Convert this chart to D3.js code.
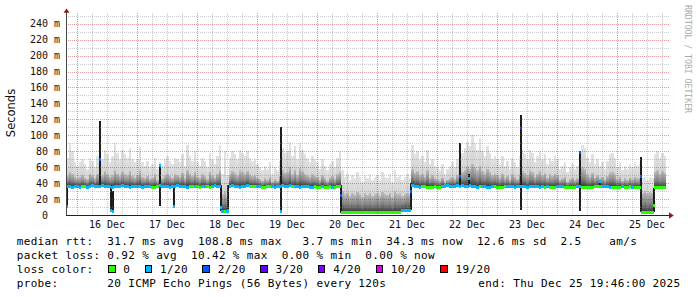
<!DOCTYPE html>
<html>
<head>
<meta charset="utf-8">
<script src="https://cdn.jsdelivr.net/npm/d3@7"></script>
<style>
  body { margin: 0; background: #fff; }
  svg { display: block; }
  text { font-family: "DejaVu Sans Mono", monospace; white-space: pre; }
</style>
</head>
<body>
<svg id="chart" width="697" height="297"></svg>
<script>
// Hourly bins from 15 Dec 19:46 to 25 Dec 19:46 (240 bins)
const startTime = "2025-12-15 19:46";
const endTime = "2025-12-25 19:46";

// top of the smoke (slowest ping), ms
const smokeHi = [
  71, 90, 80, 67,
  62, 66, 70, 64, 58, 72, 68, 60, 74, 78, 70, 82, 76, 66, 74, 90, 78, 70, 82, 76, 72, 84, 70, 66,
  70, 86, 66, 62, 68, 60, 64, 72, 58, 66, 62, 70, 74, 68, 64, 72, 70, 66, 76, 62, 88, 74, 68, 80,
  66, 62, 72, 68, 60, 78, 70, 64, 74, 88, 52, 80, 50, 72, 80, 76, 70, 82, 78, 74, 80, 72, 68, 70,
  64, 60, 56, 62, 58, 66, 52, 60, 56, 68, 84, 78, 80, 92, 74, 86, 70, 90, 82, 76, 72, 66, 74, 70,
  66, 58, 70, 62, 56, 64, 68, 60, 72, 80, 56, 48, 52, 44, 50, 46, 54, 48, 42, 50, 46, 52, 44, 48,
  50, 44, 54, 48, 46, 52, 42, 56, 48, 50, 44, 48, 52, 46, 88, 76, 80, 70, 74, 66, 82, 64, 70, 62,
  60, 56, 64, 52, 58, 62, 66, 60, 70, 72, 78, 84, 92, 86, 100, 90, 82, 96, 80, 74, 86, 78, 70, 74,
  70, 64, 74, 62, 68, 58, 72, 66, 60, 74, 80, 76, 70, 82, 78, 66, 74, 80, 70, 76, 64, 72, 68, 74,
  70, 58, 62, 66, 54, 60, 64, 58, 62, 74, 88, 84, 72, 66, 76, 64, 70, 62, 66, 58, 68, 76, 78, 72,
  60, 66, 56, 62, 58, 64, 60, 66, 62, 64, 46, 48, 44, 48, 46, 76, 80, 72, 78, 74
];

// top of the dense part of the smoke, ms
const smokeMid = [
  50, 54, 52, 48,
  46, 48, 50, 47, 45, 52, 50, 46, 52, 54, 50, 55, 52, 48, 50, 56, 52, 49, 54, 51, 50, 55, 49, 47,
  50, 56, 48, 46, 49, 45, 47, 51, 44, 48, 46, 50, 52, 49, 47, 51, 50, 48, 53, 46, 56, 52, 49, 54,
  48, 46, 51, 49, 45, 54, 50, 47, 52, 56, 26, 30, 24, 51, 55, 53, 50, 56, 54, 52, 55, 51, 49, 50,
  47, 45, 43, 46, 44, 48, 42, 45, 43, 49, 56, 53, 54, 60, 51, 57, 50, 59, 55, 52, 50, 48, 51, 49,
  48, 44, 50, 46, 43, 47, 49, 45, 51, 54, 30, 26, 28, 24, 27, 25, 29, 26, 23, 27, 25, 28, 24, 26,
  27, 24, 29, 26, 25, 28, 23, 30, 26, 27, 24, 26, 28, 25, 58, 53, 55, 50, 52, 48, 56, 47, 50, 46,
  45, 43, 47, 41, 44, 46, 48, 45, 50, 51, 54, 57, 61, 58, 64, 60, 56, 62, 55, 52, 58, 54, 50, 52,
  50, 47, 52, 46, 49, 44, 51, 48, 45, 52, 55, 53, 50, 56, 54, 48, 52, 55, 50, 53, 47, 51, 49, 52,
  50, 44, 46, 48, 42, 45, 47, 44, 46, 52, 60, 58, 51, 48, 53, 47, 50, 46, 48, 44, 49, 53, 54, 51,
  45, 48, 43, 46, 44, 47, 45, 48, 46, 47, 28, 30, 27, 29, 28, 54, 56, 52, 55, 53
];

// median rtt, ms
const medianRtt = [
  36, 36, 35, 36,
  36, 35, 36, 36, 35, 36, 37, 36, 36, 36, 37, 36, 36, 36, 35, 36, 36, 36, 37, 36, 36, 35, 36, 36,
  36, 36, 35, 36, 36, 36, 35, 35, 36, 37, 36, 36, 36, 35, 36, 36, 37, 36, 36, 36, 35, 36, 36, 36,
  36, 35, 36, 36, 36, 35, 36, 37, 36, 36, 5, 4, 5, 36, 37, 36, 36, 35, 36, 36, 37, 36, 36, 36,
  36, 36, 35, 35, 36, 36, 36, 35, 36, 36, 37, 36, 36, 37, 36, 36, 36, 35, 36, 36, 36, 35, 35, 36,
  35, 35, 36, 35, 35, 36, 35, 35, 36, 36, 3.5, 3.4, 3.5, 3.4, 3.4, 3.5, 3.4, 3.5, 3.4, 3.4, 3.5, 3.4, 3.4, 3.5,
  3.4, 3.5, 3.4, 3.4, 3.5, 3.4, 3.4, 3.5, 3.4, 3.5, 6, 6, 6, 6, 37, 36, 36, 35, 36, 36, 35, 35, 35, 36,
  35, 35, 36, 36, 37, 36, 36, 36, 37, 36, 37, 36, 36, 37, 36, 36, 35, 36, 36, 36, 35, 35, 36, 36,
  35, 35, 35, 36, 36, 36, 36, 35, 36, 36, 36, 36, 35, 36, 36, 36, 36, 35, 36, 35, 36, 35, 35, 35,
  36, 36, 36, 35, 35, 35, 35, 35, 36, 36, 35, 35, 35, 35, 35, 36, 36, 36, 36, 36, 36, 35, 35, 35,
  35, 35, 36, 35, 35, 36, 35, 35, 35, 35, 3.6, 3.6, 3.6, 3.6, 3.6, 34, 34, 34, 34, 34
];

// lost pings out of 20
const lossCount = [
  1, 1, 1, 1,
  1, 1, 0, 0, 1, 1, 1, 1, 1, 1, 1, 1, 1, 1, 1, 1, 1, 1, 1, 1, 1, 1, 1, 1,
  1, 1, 1, 1, 1, 1, 0, 0, 0, 1, 1, 1, 1, 1, 1, 1, 1, 1, 1, 1, 1, 0, 0, 1,
  0, 0, 1, 1, 0, 0, 1, 1, 1, 1, 1, 0, 1, 1, 1, 1, 1, 1, 1, 1, 1, 0, 0, 0,
  1, 1, 0, 0, 0, 0, 1, 1, 1, 1, 1, 1, 1, 1, 0, 1, 1, 1, 1, 1, 1, 1, 1, 0,
  0, 0, 1, 0, 0, 0, 1, 0, 0, 0, 0, 0, 0, 0, 0, 0, 0, 0, 0, 0, 0, 0, 0, 0,
  0, 0, 0, 0, 0, 0, 0, 0, 0, 0, 1, 1, 1, 1, 1, 1, 1, 1, 0, 0, 0, 0, 0, 0,
  0, 0, 1, 1, 1, 1, 1, 1, 1, 1, 1, 1, 1, 1, 1, 1, 1, 0, 1, 1, 1, 1, 1, 0,
  0, 0, 0, 0, 1, 1, 1, 1, 1, 1, 1, 1, 1, 1, 1, 1, 1, 1, 1, 0, 1, 0, 0, 0,
  1, 1, 1, 0, 0, 0, 0, 0, 1, 1, 0, 0, 0, 0, 0, 0, 0, 0, 1, 1, 1, 1, 0, 0,
  0, 0, 1, 0, 0, 0, 1, 0, 0, 0, 0, 0, 0, 0, 0, 0, 0, 0, 0, 0
];

// short bursts where the pings spread widely (dark columns)
const burstTimes = [
  "2025-12-15 20:10", "2025-12-16 09:22", "2025-12-16 13:34", "2025-12-16 14:22",
  "2025-12-17 09:22", "2025-12-17 14:58", "2025-12-18 09:34", "2025-12-18 12:22",
  "2025-12-19 09:34", "2025-12-20 09:34", "2025-12-21 13:46", "2025-12-22 09:22",
  "2025-12-22 12:58", "2025-12-23 09:34", "2025-12-24 09:22", "2025-12-24 17:10",
  "2025-12-25 09:34", "2025-12-25 14:46"
];
const burstLo   = [10, 36, 5, 5, 11, 11, 5, 5, 4, 3, 6, 36, 36, 6, 5, 36, 4, 4];
const burstHi   = [38, 118, 38, 30, 62, 37, 38, 38, 110, 38, 40, 90, 52, 125, 78, 43, 73, 34];
const burstMed  = [11, 69, 6, 5, 62, 11, 10, 6, 4, 25, 30, 48, 46, 109, 78, 42, 48, 12];
const burstLoss = [1, 2, 1, 1, 1, 1, 1, 1, 1, 2, 2, 2, 1, 3, 2, 1, 2, 0];

const yTicks = [0, 20, 40, 60, 80, 100, 120, 140, 160, 180, 200, 220, 240];
const yMinor = [10, 30, 50, 70, 90, 110, 130, 150, 170, 190, 210, 230, 250];
const dayLabels = ["16 Dec", "17 Dec", "18 Dec", "19 Dec", "20 Dec", "21 Dec", "22 Dec", "23 Dec", "24 Dec", "25 Dec"];

const lossLabels = ["0", "1/20", "2/20", "3/20", "4/20", "10/20", "19/20"];
const lossSteps  = [0, 1, 2, 3, 4, 10, 19];
const lossColors = ["#26ff00", "#00b8ff", "#0059ff", "#5e00ff", "#7e00ff", "#dd00ff", "#ff0000"];

const statLines = [
  "median rtt:  31.7 ms avg  108.8 ms max   3.7 ms min  34.3 ms now  12.6 ms sd  2.5    am/s",
  "packet loss: 0.92 % avg  10.42 % max  0.00 % min  0.00 % now"
];
const probeLine = "probe:       20 ICMP Echo Pings (56 Bytes) every 120s";
const endLine = "end: Thu Dec 25 19:46:00 2025";

// ---- setup
const parse = d3.timeParse("%Y-%m-%d %H:%M");
const t0 = parse(startTime), t1 = parse(endTime);
const plotL = 66, plotR = 666, plotB = 215, plotT = 15.7;

const x = d3.scaleTime().domain([t0, t1]).range([plotL, plotR]);
const y = d3.scaleLinear().domain([0, 250]).range([plotB, plotT]);
const lossColor = d3.scaleThreshold().domain(lossSteps.slice(1)).range(lossColors);

const svg = d3.select("#chart");
const defs = svg.append("defs");

const gLight = defs.append("linearGradient").attr("id", "gLight")
  .attr("x1", 0).attr("y1", 0).attr("x2", 0).attr("y2", 1);
gLight.append("stop").attr("offset", 0).attr("stop-color", "#e3e3e3");
gLight.append("stop").attr("offset", 1).attr("stop-color", "#c6c6c6");

const gDark = defs.append("linearGradient").attr("id", "gDark")
  .attr("x1", 0).attr("y1", 0).attr("x2", 0).attr("y2", 1);
gDark.append("stop").attr("offset", 0).attr("stop-color", "#bdbdbd");
gDark.append("stop").attr("offset", 0.55).attr("stop-color", "#858585");
gDark.append("stop").attr("offset", 1).attr("stop-color", "#363636");

defs.append("clipPath").attr("id", "plotClip")
  .append("rect").attr("x", plotL).attr("y", 0).attr("width", plotR - plotL).attr("height", plotB);

const bins = smokeHi.map((hi, i) => ({
  a: d3.timeHour.offset(t0, i),
  b: d3.timeHour.offset(t0, i + 1),
  hi, mid: smokeMid[i], med: medianRtt[i], loss: lossCount[i]
}));

const bursts = burstTimes.map((t, i) => ({
  t: parse(t), lo: burstLo[i], hi: burstHi[i], med: burstMed[i], loss: burstLoss[i]
}));

const plot = svg.append("g").attr("clip-path", "url(#plotClip)")
  .attr("shape-rendering", "crispEdges");

// smoke: light outer part
plot.selectAll("rect.smoke-hi").data(bins).join("rect")
  .attr("class", "smoke-hi")
  .attr("x", d => x(d.a)).attr("width", d => x(d.b) - x(d.a))
  .attr("y", d => y(d.hi)).attr("height", d => y(d.med) - y(d.hi))
  .attr("fill", "url(#gLight)");

// smoke: dense part near the median
plot.selectAll("rect.smoke-mid").data(bins).join("rect")
  .attr("class", "smoke-mid")
  .attr("x", d => x(d.a)).attr("width", d => x(d.b) - x(d.a))
  .attr("y", d => y(d.mid)).attr("height", d => y(d.med) - y(d.mid))
  .attr("fill", "url(#gDark)");

// dark burst columns
plot.selectAll("rect.burst").data(bursts).join("rect")
  .attr("class", "burst")
  .attr("x", d => x(d.t) - 1).attr("width", 2)
  .attr("y", d => y(d.hi)).attr("height", d => y(d.lo) - y(d.hi))
  .attr("fill", "#1c1c1c");

// median, coloured by loss
plot.selectAll("rect.med").data(bins).join("rect")
  .attr("class", "med")
  .attr("x", d => x(d.a)).attr("width", d => x(d.b) - x(d.a))
  .attr("y", d => y(d.med) - 1.5).attr("height", 3)
  .attr("fill", d => lossColor(d.loss));

plot.selectAll("rect.burst-med").data(bursts).join("rect")
  .attr("class", "burst-med")
  .attr("x", d => x(d.t) - 1).attr("width", 2)
  .attr("y", d => y(d.med) - 1.5).attr("height", 3)
  .attr("fill", d => lossColor(d.loss));

// ---- grid (drawn over the data, like rrdtool)
const grid = svg.append("g").attr("shape-rendering", "crispEdges");
const minorColor = "rgba(140,140,140,0.45)";
const majorColor = "rgba(190,40,40,0.45)";

const midnights = d3.timeDay.range(d3.timeDay.ceil(t0), t1);
const sixHours = d3.timeHour.every(6).range(t0, t1).filter(d => d.getHours() !== 0);

grid.selectAll("line.vminor").data(sixHours).join("line")
  .attr("x1", d => Math.round(x(d)) + 0.5).attr("x2", d => Math.round(x(d)) + 0.5)
  .attr("y1", 13).attr("y2", plotB)
  .attr("stroke", minorColor).attr("stroke-dasharray", "1,1");

grid.selectAll("line.hminor").data(yMinor).join("line")
  .attr("x1", plotL).attr("x2", 669)
  .attr("y1", d => Math.round(y(d)) + 0.5).attr("y2", d => Math.round(y(d)) + 0.5)
  .attr("stroke", minorColor).attr("stroke-dasharray", "1,1");

grid.selectAll("line.vmajor").data(midnights).join("line")
  .attr("x1", d => Math.round(x(d)) + 0.5).attr("x2", d => Math.round(x(d)) + 0.5)
  .attr("y1", 13).attr("y2", plotB)
  .attr("stroke", majorColor).attr("stroke-dasharray", "1,1");

grid.selectAll("line.hmajor").data(yTicks.filter(d => d > 0)).join("line")
  .attr("x1", plotL).attr("x2", 669)
  .attr("y1", d => Math.round(y(d)) + 0.5).attr("y2", d => Math.round(y(d)) + 0.5)
  .attr("stroke", majorColor).attr("stroke-dasharray", "1,1");

// ---- axes
svg.append("line").attr("x1", plotL + 0.5).attr("x2", plotL + 0.5)
  .attr("y1", 12).attr("y2", plotB + 1).attr("stroke", "#444");
svg.append("line").attr("x1", plotL).attr("x2", 670)
  .attr("y1", plotB + 0.5).attr("y2", plotB + 0.5).attr("stroke", "#222");
svg.append("path").attr("d", "M63.5,12.8L69.5,12.8L66.5,8.5Z").attr("fill", "#8e1c1c");
svg.append("path").attr("d", "M669,212.2L669,218.8L673.8,215.5Z").attr("fill", "#8e1c1c");

svg.append("g").attr("transform", `translate(${plotL},0)`)
  .call(d3.axisLeft(y).tickValues(yTicks).tickSize(0).tickPadding(6)
    .tickFormat(d => d === 0 ? "0" : d + " m"))
  .call(g => g.select(".domain").remove())
  .call(g => g.attr("font-family", "DejaVu Sans Mono").attr("font-size", 10))
  .call(g => g.selectAll("text").attr("fill", "#111").attr("dx", d => d === 0 ? -12 : 0));

const noons = midnights.map(d => d3.timeHour.offset(d, 12));
svg.append("g").attr("transform", `translate(0,${plotB})`)
  .call(d3.axisBottom(x).tickValues(noons).tickSize(0).tickPadding(6)
    .tickFormat((d, i) => dayLabels[i]))
  .call(g => g.select(".domain").remove())
  .call(g => g.attr("font-family", "DejaVu Sans Mono").attr("font-size", 10))
  .call(g => g.selectAll("text").attr("fill", "#111"));

// axis title
svg.append("text")
  .attr("transform", "translate(15,113) rotate(-90)")
  .attr("text-anchor", "middle")
  .style("font-family", "'DejaVu Sans', sans-serif")
  .attr("font-size", 11.5).attr("fill", "#111")
  .text("Seconds");

// watermark
svg.append("text")
  .attr("transform", "translate(685,5) rotate(90)")
  .attr("font-size", 8.2).attr("fill", "#ababab")
  .attr("textLength", 108).attr("lengthAdjust", "spacing")
  .text("RRDTOOL / TOBI OETIKER");

// ---- legend
const leg = svg.append("g").attr("font-size", 11).attr("fill", "#000")
  .attr("letter-spacing", "0.35px");
const lx0 = 16.7;
statLines.forEach((s, i) => {
  leg.append("text").attr("x", lx0).attr("y", 245 + i * 14.2).text(s);
});
leg.append("text").attr("x", lx0).attr("y", 273.3).text("loss color:");

let bx = 108.5;
lossLabels.forEach((lab, i) => {
  leg.append("rect").attr("x", bx).attr("y", 265.5).attr("width", 6.5).attr("height", 7)
    .attr("fill", lossColors[i]).attr("stroke", "#000").attr("shape-rendering", "crispEdges");
  const t = leg.append("text").attr("x", bx + 14.8).attr("y", 273.3).text(lab);
  bx += 14.8 + t.node().getComputedTextLength() + 15;
});

leg.append("text").attr("x", lx0).attr("y", 287.3).text(probeLine);
leg.append("text").attr("x", 478.3).attr("y", 287.3).text(endLine);
</script>
</body>
</html>
